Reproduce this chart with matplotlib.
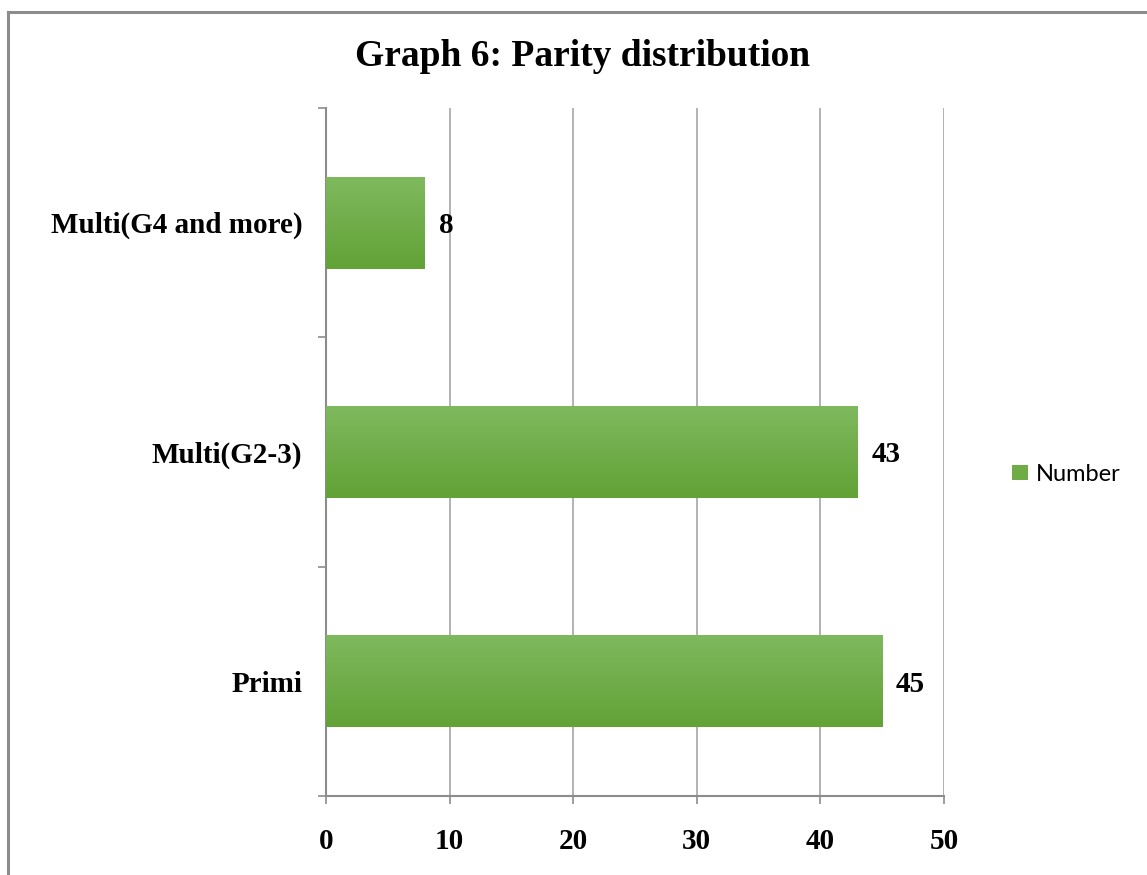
import numpy as np
import matplotlib.pyplot as plt
from matplotlib.lines import Line2D
from matplotlib.patches import Patch
from matplotlib.colors import LinearSegmentedColormap

categories = ["Primi", "Multi(G2-3)", "Multi(G4 and more)"]
counts = [45, 43, 8]
x_ticks = [0, 10, 20, 30, 40, 50]
series_name = "Number"
title = "Graph 6: Parity distribution"

serif = ["Liberation Serif", "DejaVu Serif"]
grey = "#8c8c8c"

fig = plt.figure(figsize=(11.47, 8.75), dpi=100)
ax = fig.add_axes([0.2842, 0.0903, 0.5388, 0.7863])

y = np.arange(len(categories))
bar_h = 0.4
bars = ax.barh(y, counts, height=bar_h, color="#6eac46", zorder=2)

# vertical gradient on each bar, lighter at the top
grad = LinearSegmentedColormap.from_list("g", ["#62a236", "#7fb95e"])
ramp = np.linspace(0, 1, 100).reshape(-1, 1)
for b in bars:
    x0, y0 = b.get_x(), b.get_y()
    ax.imshow(ramp, cmap=grad, aspect="auto", origin="lower",
              extent=(x0, x0 + b.get_width(), y0, y0 + b.get_height()), zorder=3)

for yi, v in zip(y, counts):
    ax.annotate(str(v), (v, yi), xytext=(10, -2), textcoords="offset points",
                va="center", ha="left", fontsize=21, fontweight="bold", family=serif)

ax.set_xlim(0, 50)
ax.set_ylim(-0.5, len(categories) - 0.5)
ax.set_xticks(x_ticks)
ax.set_xticklabels([str(t) for t in x_ticks], fontsize=21, fontweight="bold", family=serif)
ax.set_yticks(y)
ax.set_yticklabels(categories, fontsize=21, fontweight="bold", family=serif)
ax.set_yticks(np.arange(-0.5, len(categories)), minor=True)
ax.tick_params(axis="y", which="major", length=0, pad=17)
ax.tick_params(axis="y", which="minor", length=6, color=grey, width=1.2)
ax.tick_params(axis="x", length=6, color=grey, width=1.2, pad=17)

ax.grid(axis="x", color="#a6a6a6", linewidth=1.2, zorder=0)
ax.set_axisbelow(True)
for s in ["top", "right"]:
    ax.spines[s].set_visible(False)
for s in ["left", "bottom"]:
    ax.spines[s].set_color(grey)
    ax.spines[s].set_linewidth(1.5)

fig.text(0.508, 0.935, title, ha="center", va="center", fontsize=27,
         fontweight="bold", family=serif)

fig.legend(handles=[Patch(facecolor="#6eac46", label=series_name)],
           loc="center left", bbox_to_anchor=(0.864, 0.458), frameon=False,
           prop={"family": ["Lato", "DejaVu Sans"], "size": 17},
           handlelength=0.65, handleheight=0.65, handletextpad=0.35)

# outer frame (top and left edges)
fig.add_artist(Line2D([8 / 1147, 1], [1 - 12 / 875, 1 - 12 / 875],
                      transform=fig.transFigure, color=grey, linewidth=2.2))
fig.add_artist(Line2D([8 / 1147, 8 / 1147], [0, 1 - 12 / 875],
                      transform=fig.transFigure, color=grey, linewidth=2.2))

fig.savefig("out.png", dpi=100)
